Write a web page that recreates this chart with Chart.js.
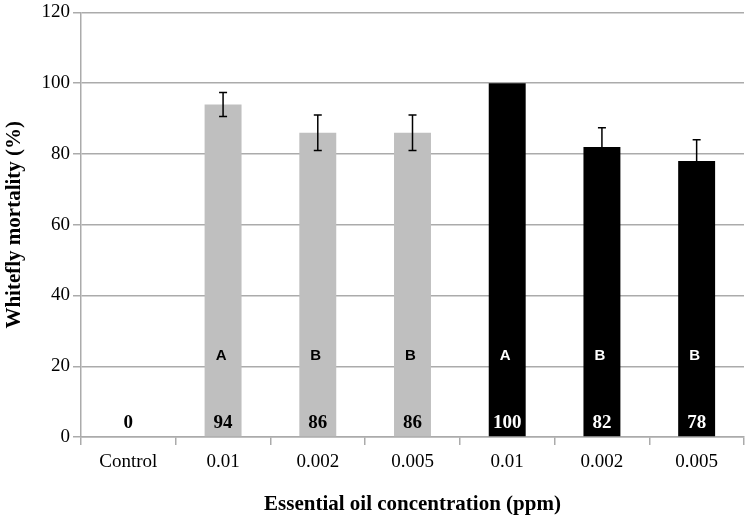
<!DOCTYPE html>
<html>
<head>
<meta charset="utf-8">
<script src="https://cdn.jsdelivr.net/npm/chart.js@4/dist/chart.umd.min.js"></script>
<style>
  html, body { margin: 0; padding: 0; background: #fff; }
  #wrap { width: 750px; height: 523px; }
</style>
</head>
<body>
<div id="wrap"><canvas id="chart" width="750" height="523"></canvas></div>
<script>
// values
const categories = ['Control', '0.01', '0.002', '0.005', '0.01', '0.002', '0.005'];
const mortality = [0, 94, 86, 86, 100, 82, 78];
const errors = [0, 3.4, 5, 5, 0, 5.4, 6];
const letters = ['', 'A', 'B', 'B', 'A', 'B', 'B'];
const barColors = ['#bfbfbf', '#bfbfbf', '#bfbfbf', '#bfbfbf', '#000000', '#000000', '#000000'];
const yMin = 0, yMax = 120, yStep = 20;

const gridGray = '#ababab';
const serif = '"Liberation Serif", "Times New Roman", serif';

const annotate = {
  id: 'annotate',
  afterDatasetsDraw(chart) {
    const ctx = chart.ctx;
    const x = chart.scales.x, y = chart.scales.y;
    const meta = chart.getDatasetMeta(0);
    ctx.save();
    // error bars
    ctx.strokeStyle = '#000';
    ctx.lineWidth = 1.5;
    mortality.forEach((v, i) => {
      if (!errors[i]) return;
      const cx = meta.data[i].x;
      const top = y.getPixelForValue(v + errors[i]);
      const bot = y.getPixelForValue(v - errors[i]);
      ctx.beginPath();
      ctx.moveTo(cx, top); ctx.lineTo(cx, bot);
      ctx.moveTo(cx - 4, top); ctx.lineTo(cx + 4, top);
      ctx.moveTo(cx - 4, bot); ctx.lineTo(cx + 4, bot);
      ctx.stroke();
    });
    // value and letter labels inside the bars
    ctx.textAlign = 'center';
    ctx.textBaseline = 'middle';
    mortality.forEach((v, i) => {
      const cx = x.getPixelForValue(i);
      const dark = barColors[i] === '#000000' && v > 0;
      ctx.fillStyle = dark ? '#fff' : '#000';
      ctx.font = 'bold 19px ' + serif;
      ctx.fillText(String(v), cx, y.getPixelForValue(4));
      if (letters[i]) {
        ctx.font = 'bold 15px "Liberation Sans", Arial, sans-serif';
        ctx.fillText(letters[i], cx - 2, y.getPixelForValue(23));
      }
    });
    ctx.restore();
  }
};

new Chart(document.getElementById('chart'), {
  type: 'bar',
  data: {
    labels: categories,
    datasets: [{
      data: mortality,
      backgroundColor: barColors,
      borderWidth: 0,
      barPercentage: 0.39,
      categoryPercentage: 1
    }]
  },
  options: {
    responsive: false,
    animation: false,
    layout: { padding: { top: 11, right: 6, left: 0, bottom: 0 } },
    plugins: { legend: { display: false }, tooltip: { enabled: false } },
    scales: {
      x: {
        afterFit(scale) { scale.height = 86; },
        grid: { drawOnChartArea: false, drawTicks: true, tickLength: 8, color: gridGray, lineWidth: 1.5 },
        border: { color: gridGray, width: 1.5 },
        ticks: { color: '#000', font: { family: serif, size: 19 }, padding: 6, maxRotation: 0 },
        title: {
          display: true,
          text: 'Essential oil concentration (ppm)',
          color: '#000',
          font: { family: serif, size: 21, weight: 'bold' },
          padding: { top: 0, bottom: 6 }
        }
      },
      y: {
        min: yMin,
        max: yMax,
        afterFit(scale) { scale.width = 81; },
        grid: { color: gridGray, lineWidth: 1.5, tickLength: 8 },
        border: { color: gridGray, width: 1.5 },
        ticks: { stepSize: yStep, color: '#000', font: { family: serif, size: 19, lineHeight: 1 }, padding: 3 },
        title: {
          display: true,
          text: 'Whitefly mortality (%)',
          color: '#000',
          font: { family: serif, size: 21, weight: 'bold' },
          padding: { top: 2, bottom: 0 }
        }
      }
    }
  },
  plugins: [annotate]
});
</script>
</body>
</html>
